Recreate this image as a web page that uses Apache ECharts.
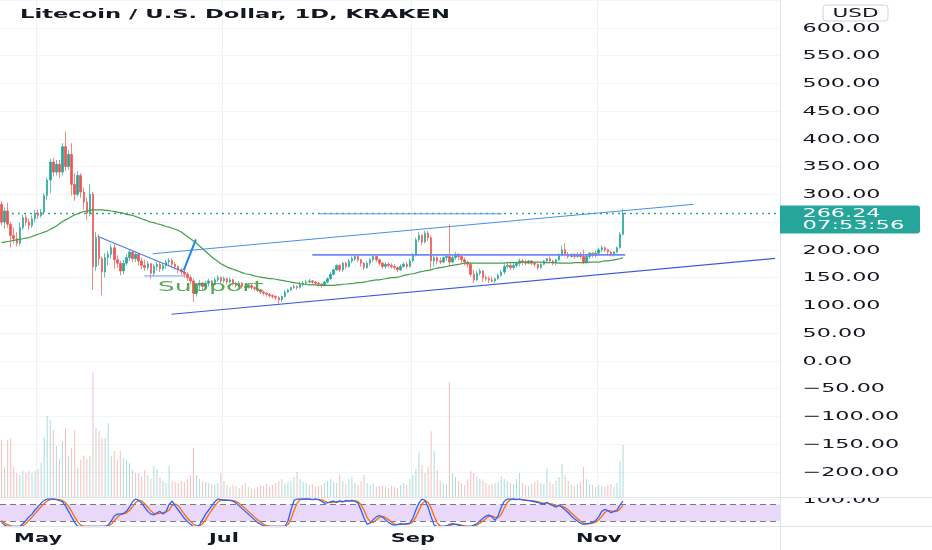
<!DOCTYPE html>
<html><head><meta charset="utf-8">
<script src="https://cdn.jsdelivr.net/npm/echarts@6/dist/echarts.min.js"></script>
<style>html,body{margin:0;padding:0;background:#fff}#c{width:932px;height:550px}</style>
</head><body><div id="c"></div>
<script>
// ---------------- data ----------------
const startDate = '2021-04-19';
const dayCount = 256;               // visible daily slots incl. empty future space
const titleText = 'Litecoin / U.S. Dollar, 1D, KRAKEN';
const currency = 'USD';
const lastPrice = 266.24;
const countdown = '07:53:56';
const monthLabels = [['2021-05-01','May'],['2021-07-01','Jul'],['2021-09-01','Sep'],['2021-11-01','Nov']];
const priceTicks = [600,550,500,450,400,350,300,200,150,100,50,0,-50,-100,-150,-200];
const stochTicks = [100];

const opens = [
282,250,270,246,226,220,212,240,258,250,
244,256,266,262,268,298,326,358,340,354,
340,386,350,372,318,300,334,304,286,266,
300,170,222,184,160,186,192,204,182,176,
162,176,186,196,184,192,180,172,168,175,
158,170,174,166,172,178,181,174,170,164,
160,156,150,144,122,136,140,134,140,144,
138,146,150,144,148,142,146,140,136,140,
134,132,136,132,130,128,124,122,120,118,
116,114,110,116,124,128,132,134,132,138,
140,142,144,142,140,138,136,142,148,156,
164,172,164,176,170,180,184,188,182,176,
168,176,182,188,182,176,170,174,172,170,
168,164,170,174,170,180,190,218,226,214,
230,222,180,186,180,178,186,188,178,186,
192,188,182,178,174,156,146,158,162,150,
148,146,144,148,154,160,170,172,168,172,
176,180,178,176,180,176,174,168,174,180,
184,180,176,182,190,200,192,188,192,188,
192,188,178,188,194,190,194,200,204,200,
196,192,196,204,228];
const closes = [
250,270,246,226,220,212,240,258,250,244,
256,266,262,268,298,326,358,340,354,340,
386,350,372,318,300,334,304,286,266,300,
170,222,184,160,186,192,204,182,176,162,
176,186,196,184,192,180,172,168,175,158,
170,174,166,172,178,181,174,170,164,160,
156,150,144,122,136,140,134,140,144,138,
146,150,144,148,142,146,140,136,140,134,
132,136,132,130,128,124,122,120,118,116,
114,110,116,124,128,132,134,132,138,140,
142,144,142,140,138,136,142,148,156,164,
172,164,176,170,180,184,188,182,176,168,
176,182,188,182,176,170,174,172,170,168,
164,170,174,170,180,190,218,226,214,230,
222,180,186,180,178,186,188,178,186,192,
188,182,178,174,156,146,158,162,150,148,
146,144,148,154,160,170,172,168,172,176,
180,178,176,180,176,174,168,174,180,184,
180,176,182,190,200,192,188,192,188,192,
188,178,188,194,190,194,200,204,200,196,
192,196,204,228,266.24];
const highs = [
288,276,285,250,240,232,250,264,264,256,
262,272,272,274,302,330,364,366,362,362,
392,413,380,392,338,342,338,312,294,318,
304,232,228,188,194,198,210,210,190,180,
182,192,200,198,196,194,186,182,180,176,
174,178,178,176,182,185,184,178,172,168,
164,160,154,148,140,146,142,144,148,146,
150,154,152,152,150,150,148,142,144,142,
136,140,138,134,132,130,126,124,122,120,
118,116,118,128,130,134,138,136,142,144,
146,148,146,144,142,140,144,150,160,166,
174,174,178,178,184,188,192,190,184,178,
180,186,190,190,184,178,178,178,176,174,
170,174,178,178,184,194,222,232,228,234,
234,226,190,188,186,188,192,246,190,196,
194,190,186,180,178,164,162,166,164,154,
152,152,150,158,164,174,176,176,176,178,
184,184,182,182,182,178,176,176,182,186,
188,182,184,194,208,212,196,194,194,196,
196,200,192,196,196,198,204,208,206,202,
198,198,206,232,274];
const lows = [
244,238,240,204,212,206,208,236,244,236,
240,250,256,258,264,290,302,332,334,330,
334,342,344,298,288,296,294,272,254,260,
128,162,172,118,150,172,184,166,168,154,
156,172,180,178,178,172,165,162,164,148,
152,162,160,162,166,170,168,164,158,155,
150,144,138,106,116,128,128,130,134,134,
136,142,140,140,138,140,136,132,134,130,
126,130,128,126,124,120,118,116,114,112,
110,103,106,114,122,126,130,128,130,134,
136,140,138,136,134,132,134,140,146,154,
162,160,160,166,168,176,180,178,170,164,
166,172,178,178,172,166,166,168,166,164,
160,162,168,166,168,178,188,214,208,212,
216,164,170,174,174,176,180,172,176,182,
182,176,172,168,152,140,144,154,142,144,
140,142,140,146,152,156,166,164,164,168,
170,172,172,174,172,170,164,166,172,176,
176,172,172,180,188,188,184,186,184,186,
184,174,176,184,186,186,190,196,196,192,
188,188,194,202,226];
const volumes = [
228,120,228,236,120,96,88,104,96,104,
96,104,112,136,240,324,308,268,204,152,
224,276,164,196,268,116,148,164,152,164,
500,276,264,236,236,296,164,184,148,184,
156,148,136,108,96,96,84,108,88,72,
124,112,80,64,56,124,64,60,56,64,
60,72,88,196,88,72,64,60,56,52,
48,56,96,64,48,40,48,44,36,48,
56,40,36,32,40,48,44,52,40,48,
56,64,72,56,60,64,80,100,72,60,
56,48,52,40,44,48,56,64,72,60,
56,88,64,52,72,80,56,48,64,88,
56,48,52,40,44,48,40,36,44,40,
36,48,56,48,72,88,112,180,128,96,
120,264,184,108,64,56,52,460,96,80,
64,56,48,72,104,96,80,72,64,56,
48,52,56,60,84,72,64,56,52,72,
96,56,48,44,52,60,68,56,52,116,
60,52,64,80,132,88,64,48,44,52,
60,120,72,52,48,40,48,44,40,48,
52,40,56,144,208];
const movingAvg = [
213,214,215,216,217,218,219,220,221,222,
224,226,228,230,232,234,237,240,243,247,
251,254,257,260,263,265,267,269,270,271,
272,272,272,272,271,271,270,269,268,267,
266,264,263,262,260,258,256,254,252,250,
249,247,246,244,242,241,239,237,235,232,
228,224,220,216,212,207,202,197,192,187,
183,179,175,172,169,167,165,163,161,159,
157,156,155,153,152,151,150,149,148,148,
147,146,145,144,143,142,141,140,139,138,
138,137,137,137,136,136,136,136,136,136,
137,137,138,138,139,139,140,141,141,142,
143,144,145,146,146,147,148,149,150,150,
151,152,154,155,156,157,158,160,161,162,
163,164,166,167,168,169,170,171,172,173,
174,175,176,176,176,176,176,176,176,176,
176,176,176,176,176,176,177,177,177,177,
177,178,178,178,178,178,178,178,177,177,
177,177,177,176,176,176,176,176,177,177,
177,177,177,178,178,178,178,179,180,180,
181,182,183,184,186];
const stochK = [
15,5,0,0,0,0,0,10,22,35,
45,60,72,85,95,100,100,100,98,95,
90,75,55,35,15,0,0,0,0,0,
0,0,0,0,0,5,20,38,45,45,
48,55,70,90,100,95,85,70,55,45,
42,50,55,45,55,80,92,75,60,45,
30,18,8,0,0,5,25,45,60,75,
90,100,98,95,96,95,92,85,75,65,
55,45,35,25,15,8,2,0,0,0,
0,0,0,0,20,60,95,100,100,100,
100,100,98,100,98,92,85,86,90,92,
88,93,90,94,92,95,92,85,60,30,
8,12,25,35,40,35,25,15,8,5,
8,10,8,10,12,30,60,85,100,95,
70,35,5,0,0,0,2,8,10,8,
5,2,0,0,0,5,10,20,30,38,
42,35,22,40,70,92,100,100,100,98,
100,97,95,94,92,90,88,84,82,88,
80,76,70,78,70,60,50,38,28,20,
12,8,10,12,15,22,35,55,62,58,
50,55,60,78,92];
const stochD = [
22,12,7,2,0,0,0,3,11,22,
34,47,59,72,84,93,98,100,99,98,
94,87,73,55,35,17,5,0,0,0,
0,0,0,0,0,2,8,21,34,43,
46,49,58,72,87,95,93,83,70,57,
47,46,49,50,52,60,76,82,76,60,
45,31,19,9,3,2,10,25,43,60,
75,88,96,98,96,95,94,91,84,75,
65,55,45,35,25,16,8,3,1,0,
0,0,0,0,7,27,58,85,98,100,
100,100,99,99,99,97,92,88,87,89,
90,91,90,92,92,94,93,91,79,58,
33,17,15,24,33,37,33,25,16,9,
7,8,9,9,10,17,34,58,82,93,
88,67,37,13,2,0,1,3,7,9,
8,5,2,1,0,2,5,12,20,29,
37,38,33,32,44,67,87,97,100,99,
99,98,97,95,94,92,90,87,85,85,
83,81,75,75,73,69,60,49,39,29,
20,13,10,10,12,16,24,37,51,58,
57,54,55,64,77];
// user drawings: [[day position, price], [day position, price]]
const channelUpper = [[50.1,193],[227.6,282]];
const channelLower = [[56.3,84],[254.4,184.6]];
const levelHigh    = [[104.7,265],[164.8,265]];
const levelMid     = [[102.5,191],[205.2,191]];
const wedgeTop     = [[32.0,224.5],[60.4,160]];
const wedgeBase    = [[47.3,153],[60.4,153]];
const breakout     = [[60.3,163],[64.3,219]];
const supportNote  = {text:'Support', at:[69.2,132]};
const stochLevels = [20, 80];

// ---------------- helpers ----------------
const dates = [];
{ const t0 = Date.parse(startDate + 'T00:00:00Z');
  for (let i = 0; i < dayCount; i++) dates.push(new Date(t0 + i*86400000).toISOString().slice(0,10)); }
const monthMap = Object.fromEntries(monthLabels);
const FONT = '"DejaVu Sans", "Liberation Sans", sans-serif';
const INK = '#131722';
const UP = '#26a69a', DOWN = '#ef5350';
const mctx = document.createElement('canvas').getContext('2d');
function tw(t, font){ mctx.font = font; return mctx.measureText(t).width; }
function priceStr(v){ return (v < 0 ? '\u2212' : '') + Math.abs(v).toFixed(2); }

const candles = opens.map((o, i) => [o, closes[i], lows[i], highs[i]]);
function drawing(pts, color, width){
  return {type:'line', xAxisIndex:1, yAxisIndex:0, data:pts, symbol:'none', silent:true, z:6,
    lineStyle:{color, width}, animation:false};
}
const monthSplit = {show:true, interval:(i, v) => !!monthMap[v], lineStyle:{color:'#eef0f4', width:1}};

const option = {
  animation:false,
  textStyle:{fontFamily:FONT},
  grid:[
    {left:-1, width:781, top:-4.3, height:504},
    {left:-1, width:781, top:297, height:200},
    {left:-1, width:781, top:499, height:27.5}
  ],
  xAxis:[
    {type:'category', gridIndex:0, data:dates, boundaryGap:true, axisLabel:{show:false}, axisTick:{show:false}, axisLine:{show:false}, splitLine:monthSplit},
    {type:'value', gridIndex:0, min:0, max:dayCount, show:false},
    {type:'category', gridIndex:1, data:dates, show:false},
    {type:'category', gridIndex:2, data:dates, boundaryGap:true, axisTick:{show:false},
      axisLine:{show:false}, splitLine:monthSplit, axisLabel:{show:false}}
  ],
  yAxis:[
    {type:'value', gridIndex:0, position:'right', min:-250, max:650, interval:50,
      axisLine:{show:false}, axisTick:{show:false}, axisLabel:{show:false},
      splitLine:{show:true, lineStyle:{color:'#f3f4f7', width:1}}},
    {type:'value', gridIndex:1, min:0, max:800, show:false},
    {type:'value', gridIndex:2, position:'right', min:0, max:100, interval:100,
      axisLine:{show:false}, axisTick:{show:false}, splitLine:{show:false}, axisLabel:{show:false}}
  ],
  series:[
    {type:'bar', xAxisIndex:2, yAxisIndex:1, data:volumes, barWidth:1, silent:true, z:1,
      itemStyle:{color:p => closes[p.dataIndex] >= opens[p.dataIndex] ? 'rgba(38,166,154,0.38)' : 'rgba(239,83,80,0.38)'}},
    {type:'candlestick', xAxisIndex:0, yAxisIndex:0, data:candles, barWidth:2, z:3, silent:true,
      itemStyle:{color:UP, color0:DOWN, borderColor:UP, borderColor0:DOWN, borderWidth:0.7},
      markLine:{silent:true, symbol:['none','none'], label:{show:false}, z:2,
        lineStyle:{color:UP, type:[2,4], width:1.3}, data:[{yAxis:lastPrice}]}},
    {type:'line', xAxisIndex:0, yAxisIndex:0, data:movingAvg, symbol:'none', silent:true, z:4,
      lineStyle:{color:'#43a047', width:1.2}},
    drawing(channelUpper, '#4a8fe7', 1),
    drawing(channelLower, '#3b5bdb', 1.2),
    drawing(levelHigh, '#5d9cec', 1),
    drawing(levelMid, '#7088f0', 1.6),
    drawing(wedgeTop, '#3d84ea', 1.2),
    drawing(wedgeBase, '#6aa3ee', 1),
    drawing(breakout, '#1e88e5', 2),
    {type:'line', xAxisIndex:3, yAxisIndex:2, data:stochK, symbol:'none', silent:true, z:4,
      lineStyle:{color:'#2962ff', width:1.3},
      markArea:{silent:true, z:1, itemStyle:{color:'#ead8fb'}, data:[[{yAxis:stochLevels[0]},{yAxis:stochLevels[1]}]]},
      markLine:{silent:true, symbol:['none','none'], label:{show:false}, z:2,
        lineStyle:{color:'#787b86', type:[6,4], width:1}, data:stochLevels.map(v => ({yAxis:v}))}},
    {type:'line', xAxisIndex:3, yAxisIndex:2, data:stochD, symbol:'none', silent:true, z:3,
      lineStyle:{color:'#ff6d00', width:1.3}}
  ]
};

const chart = echarts.init(document.getElementById('c'), null, {renderer:'canvas', width:932, height:550});
chart.setOption(option);

// TradingView's text in this picture is horizontally stretched; reproduce with scaleX
function stretched(text, font, x, y, scaleX, fill, align, z){
  return {type:'text', x, y, scaleX, z: z || 120,
    style:{text, font, fill, align: align || 'left', verticalAlign:'middle'}};
}
const LF = '12.5px "DejaVu Sans"';
const labelScale = 78 / tw('200.00', LF);
const XF = 'bold 12.5px "DejaVu Sans"';
const monthScale = 48 / tw('May', XF);
const g = [
  {type:'rect', shape:{x:781, y:485, width:151, height:12}, style:{fill:'#fff'}, z:99},
  {type:'line', shape:{x1:780.5, y1:0, x2:780.5, y2:550}, style:{stroke:'#e0e3eb', lineWidth:1}, z:100},
  {type:'line', shape:{x1:0, y1:497.5, x2:932, y2:497.5}, style:{stroke:'#e0e3eb', lineWidth:1}, z:100},
  {type:'line', shape:{x1:0, y1:526.5, x2:932, y2:526.5}, style:{stroke:'#e0e3eb', lineWidth:1}, z:100}
];
priceTicks.forEach(v => {
  const y = chart.convertToPixel({yAxisIndex:0}, v);
  g.push(stretched(priceStr(v), LF, 802.5, y + 0.5, labelScale, INK, 'left', 90));
});
stochTicks.forEach(v => {
  const y = chart.convertToPixel({yAxisIndex:2}, v);
  g.push(stretched(priceStr(v), LF, 802.5, y + 0.5, labelScale, INK, 'left', 90));
});
monthLabels.forEach(m => {
  const x = chart.convertToPixel({xAxisIndex:3}, m[0]);
  g.push(stretched(m[1], XF, x, 538.5, monthScale, INK, 'center'));
});
const py = chart.convertToPixel({yAxisIndex:0}, lastPrice);
const sp = chart.convertToPixel({xAxisIndex:1, yAxisIndex:0}, supportNote.at);
const TF = 'bold 12.5px "DejaVu Sans"';
g.push(
  stretched(titleText, TF, 20, 14.5, 430 / tw(titleText, TF), INK),
  {type:'rect', shape:{x:823, y:5, width:65, height:16, r:3}, style:{fill:'#fff', stroke:'#d1d4dc', lineWidth:1}, z:110},
  stretched(currency, '13px "DejaVu Sans"', 855.5, 13.3, 46 / tw(currency, '13px "DejaVu Sans"'), INK, 'center'),
  {type:'rect', shape:{x:780, y:py - 7.5, width:140, height:28, r:[0,3,3,0]}, style:{fill:UP}, z:110},
  stretched(lastPrice.toFixed(2), LF, 802.5, py + 0.8, labelScale, '#fff'),
  stretched(countdown, LF, 802.5, py + 12.5, 102 / tw(countdown, LF), '#fff'),
  stretched(supportNote.text, '14px "DejaVu Sans"', sp[0], sp[1], 106 / tw(supportNote.text, '14px "DejaVu Sans"'), 'rgba(67,160,71,0.9)', 'center')
);
chart.setOption({graphic:g});
</script>
</body></html>
